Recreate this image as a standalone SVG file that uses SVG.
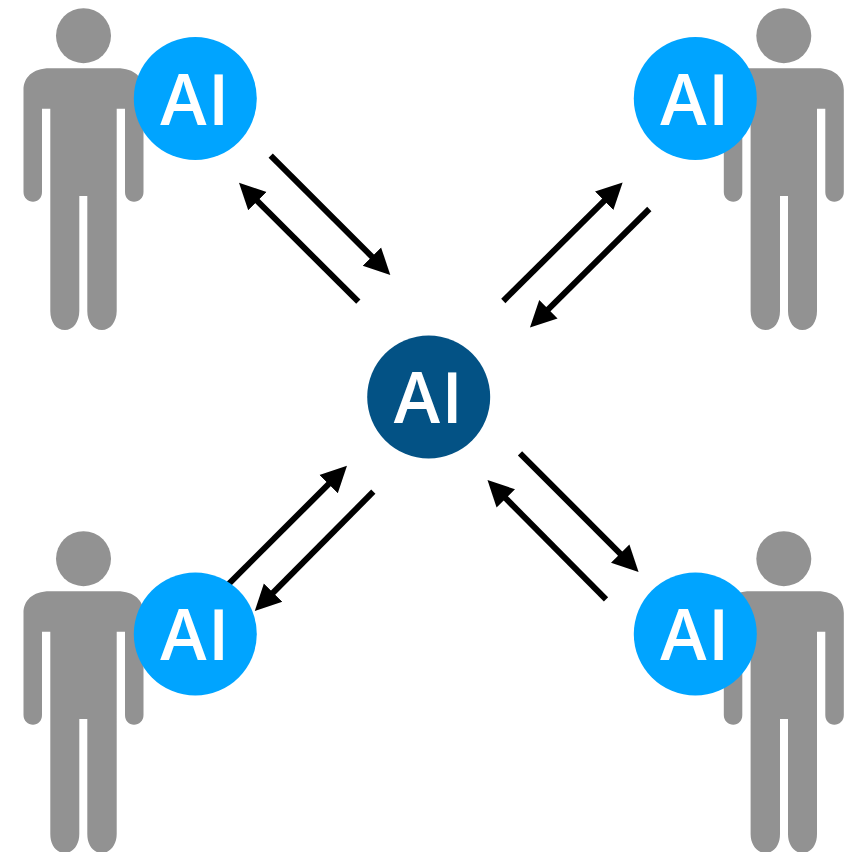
<svg xmlns="http://www.w3.org/2000/svg" width="862" height="852" viewBox="0 0 862 852">
<style>
.person{fill:#929292}
.badge{fill:#00a4ff}
.hub{fill:#035285}
.lbl{fill:#fff;font-family:"Open Sans","Noto Sans",sans-serif;font-size:70px;font-weight:600;letter-spacing:1.5px;text-anchor:middle}
.arrow{stroke:#000;stroke-width:6;fill:none;marker-end:url(#head)}
</style>
<defs>
<marker id="head" markerUnits="userSpaceOnUse" viewBox="0 -14 27 28" refX="1" refY="0" markerWidth="27" markerHeight="28" orient="auto"><path d="M0,-13L26,0L0,13z" fill="#000"/></marker>
<g id="man">
<circle cx="83.5" cy="35.7" r="27.5"/>
<path d="M50,68.3H117C135,68.3 143.5,78 143.5,90V192C143.5,198 139,201.7 134,201.7C129,201.7 125,198 125,192V108.7H116.7V311C116.7,322 110,330 102,330C93,330 87.3,322 87.3,311V196H79.3V311C79.3,322 73,330 65,330C56,330 50.3,322 50.3,311V108.7H42V192C42,198 38,201.7 33,201.7C28,201.7 23.5,198 23.5,192V90C23.5,78 32,68.3 50,68.3z"/>
</g>
</defs>
<g id="connectors">
<line class="arrow" x1="270.7" y1="155.7" x2="372.6" y2="257.3"/>
<line class="arrow" x1="358.3" y1="301.7" x2="256.7" y2="200.4"/>
<line class="arrow" x1="503.3" y1="301" x2="604.9" y2="200.1"/>
<line class="arrow" x1="649.3" y1="209" x2="547.7" y2="309.9"/>
<line class="arrow" x1="228.3" y1="584.3" x2="329.3" y2="483.4"/>
<line class="arrow" x1="373.3" y1="491.7" x2="272.4" y2="593.3"/>
<line class="arrow" x1="520" y1="453.3" x2="620.9" y2="554.3"/>
<line class="arrow" x1="606" y1="599.3" x2="505.1" y2="497.7"/>
</g>
<g id="user-tl" class="person"><use href="#man"/></g>
<g id="user-tr" class="person"><use href="#man" transform="matrix(-1 0 0 1 867.3 0)"/></g>
<g id="user-bl" class="person"><use href="#man" transform="translate(0 523)"/></g>
<g id="user-br" class="person"><use href="#man" transform="matrix(-1 0 0 1 867.3 523)"/></g>
<g id="ai-tl"><circle class="badge" cx="195.3" cy="98.5" r="61.5"/><text class="lbl" x="195.5" y="124.5">AI</text></g>
<g id="ai-tr"><circle class="badge" cx="695.3" cy="98.5" r="61.5"/><text class="lbl" x="695.5" y="124.5">AI</text></g>
<g id="ai-bl"><circle class="badge" cx="195.3" cy="634" r="61.5"/><text class="lbl" x="195.5" y="660">AI</text></g>
<g id="ai-br"><circle class="badge" cx="695.3" cy="634" r="61.5"/><text class="lbl" x="695.5" y="660">AI</text></g>
<g id="ai-hub"><circle class="hub" cx="428.7" cy="397" r="61.5"/><text class="lbl" x="429" y="423">AI</text></g>
</svg>
